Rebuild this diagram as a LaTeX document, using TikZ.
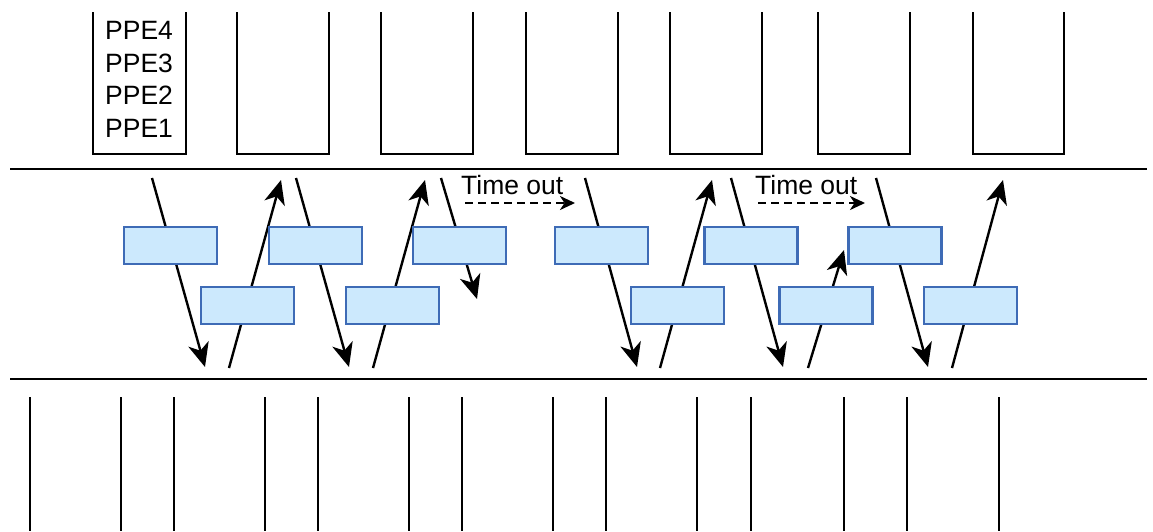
\documentclass[tikz,border=0pt]{standalone}
\usepackage{fontspec}
\setmainfont{Liberation Sans}
\usetikzlibrary{arrows.meta}
\definecolor{boxfill}{HTML}{CCE9FD}
\definecolor{boxline}{HTML}{3E6BB6}
\begin{document}
\begin{tikzpicture}[x=1pt,y=-1pt,
  lbl/.style={font=\fontsize{26.5}{32}\selectfont,inner sep=0pt,anchor=base west},
  ubox/.style={line width=2.4pt},
  rail/.style={line width=2.8pt},
  tick/.style={line width=2.3pt},
  msg/.style={line width=2.4pt,-{Stealth[length=24pt,width=21pt,inset=7pt]}},
  tmo/.style={line width=2.3pt,dash pattern=on 8pt off 5pt,-{Stealth[length=15pt,width=14pt,inset=4.5pt]}},
  pkt/.style={draw=boxline,fill=boxfill,line width=2.6pt,minimum width=93pt,minimum height=37pt,inner sep=0pt}]
\useasboundingbox (0,0) rectangle (1153,531);
% top open boxes
\foreach \a/\b in {93/186,237/329,381/473,526/618,670/762,818/910,973/1064}
  \draw[ubox] (\a,12) -- (\a,154) -- (\b,154) -- (\b,12);
\node[lbl] (ppe4) at (105,39) {PPE4};
\node[lbl] (ppe3) at (105,72) {PPE3};
\node[lbl] (ppe2) at (105,104.5) {PPE2};
\node[lbl] (ppe1) at (105,137) {PPE1};
% rails
\coordinate (railAL) at (10,169); \coordinate (railAR) at (1147,169);
\coordinate (railBL) at (10,379); \coordinate (railBR) at (1147,379);
\draw[rail] (railAL) -- (railAR);
\draw[rail] (railBL) -- (railBR);
% bottom ticks
\foreach \x in {30,121,174,265,318,409,462,553,606,697,751,844,907,999}
  \draw[tick] (\x,397) -- (\x,531);
% arrow end points
\coordinate (d1s) at (152,178); \coordinate (d1e) at (205,367);
\coordinate (u1s) at (229,368); \coordinate (u1e) at (281,180);
\coordinate (d2s) at (296,178); \coordinate (d2e) at (349,367);
\coordinate (u2s) at (373,368); \coordinate (u2e) at (425,180);
\coordinate (d3s) at (441,178); \coordinate (d3e) at (477,299);
\coordinate (d4s) at (585,178); \coordinate (d4e) at (637,367);
\coordinate (u3s) at (660,368); \coordinate (u3e) at (712,180);
\coordinate (d5s) at (731,178); \coordinate (d5e) at (783,367);
\coordinate (u4s) at (808,368); \coordinate (u4e) at (844,250);
\coordinate (d6s) at (876,178); \coordinate (d6e) at (928,367);
\coordinate (u5s) at (952,368); \coordinate (u5e) at (1003,180);
\foreach \p in {d1,u1,d2,u2,d3,d4,u3,d5,u4,d6,u5}
  \draw[msg] (\p s) -- (\p e);
% time outs
\node[lbl] (to1) at (461,194) {Time out};
\node[lbl] (to2) at (755,194) {Time out};
\coordinate (t1s) at (465,203); \coordinate (t1e) at (575,203);
\coordinate (t2s) at (758,203); \coordinate (t2e) at (865,203);
\draw[tmo] (t1s) -- (t1e);
\draw[tmo] (t2s) -- (t2e);
% packets
\node[pkt] (p1) at (170.5,245.5) {};
\node[pkt] (p2) at (315.5,245.5) {};
\node[pkt] (p3) at (459.5,245.5) {};
\node[pkt] (p4) at (601.5,245.5) {};
\node[pkt] (p5) at (751,245.5) {};
\node[pkt] (p6) at (895,245.5) {};
\node[pkt] (q1) at (247.5,305.5) {};
\node[pkt] (q2) at (392.5,305.5) {};
\node[pkt] (q3) at (677.5,305.5) {};
\node[pkt] (q4) at (826,305.5) {};
\node[pkt] (q5) at (970.5,305.5) {};
\end{tikzpicture}
\end{document}
